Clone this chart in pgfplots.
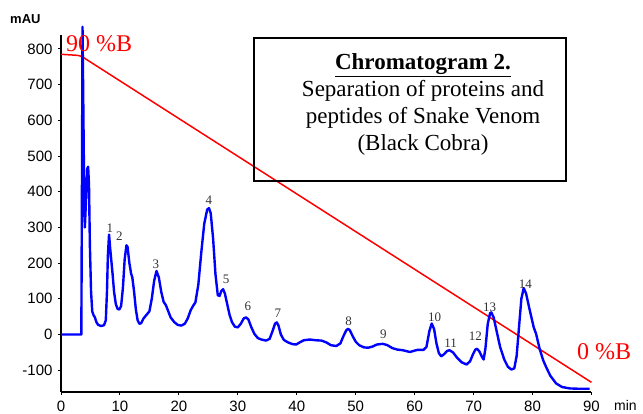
\documentclass[border=0pt]{standalone}
\usepackage{pgfplots}
\pgfplotsset{compat=1.18}
\usepackage{fontspec}
\setmainfont{Liberation Serif}
\newfontfamily\arial{Liberation Sans}
\definecolor{cblue}{RGB}{0,0,255}
\definecolor{cred}{RGB}{255,0,0}
\begin{document}
\begin{tikzpicture}
\useasboundingbox (0,0) rectangle (643pt,413pt);
\begin{axis}[
  at={(61pt,21pt)}, anchor=south west,
  scale only axis, width=530.5pt, height=357pt,
  xmin=0, xmax=90, ymin=-161, ymax=839,
  axis lines*=left,
  axis line style={line width=1.6pt, black},
  xtick={0,10,...,90}, ytick={-100,0,...,800},
  tick align=outside, major tick length=3pt,
  tick style={line width=1pt, black},
  /pgf/number format/assume math mode=true,
  ticklabel style={font=\arial\fontsize{15}{15}\selectfont},
  yticklabel style={anchor=east, xshift=-2pt},
  xticklabel style={anchor=north, yshift=-2pt},
  clip=false,
]
\addplot[cred, line width=1.5pt] coordinates {
(0,785) (2.8,782) (3.3,780) (3.8,776) (90,-134)};
\addplot[cblue, line width=2.4pt, line join=round] coordinates {
(0,0) (3.4,0) (3.45,0) (3.55,400) (3.65,862) (3.75,700) (3.9,450) (4.05,300)
(4.25,380) (4.45,465) (4.6,470) (4.75,420) (4.9,250) (5.1,120) (5.3,65)
(5.5,55) (5.75,48) (6.0,35) (6.3,27) (6.8,24) (7.3,26) (7.6,40) (7.8,120)
(7.95,220) (8.15,280) (8.35,240) (8.55,205) (8.75,170) (9.0,120) (9.3,85)
(9.6,72) (9.9,70) (10.2,80) (10.5,130) (10.8,210) (11.1,250) (11.3,245)
(11.6,200) (11.9,170) (12.1,160) (12.4,120) (12.7,70) (13.0,40) (13.3,30)
(13.6,32) (14.0,45) (14.5,55) (15.0,65) (15.4,100) (15.8,150) (16.2,178)
(16.6,160) (17.0,120) (17.4,92) (17.8,82) (18.2,65) (18.6,48) (19.2,35)
(19.8,27) (20.4,25) (21.0,30) (21.5,45) (22.0,68) (22.4,80) (22.8,90)
(23.3,140) (23.8,230) (24.3,310) (24.8,350) (25.1,354) (25.4,340) (25.8,270)
(26.2,170) (26.6,110) (26.9,108) (27.2,122) (27.5,127) (27.8,115) (28.2,85)
(28.6,55) (29.0,35) (29.5,22) (30.0,20) (30.5,30) (31.0,45) (31.4,48)
(31.8,42) (32.3,20) (32.8,2) (33.4,-10) (34.0,-14) (34.8,-17) (35.4,-12)
(35.9,10) (36.3,30) (36.6,34) (36.9,25) (37.3,0) (37.8,-15) (38.5,-22)
(39.3,-27) (39.9,-28) (40.5,-22) (41.2,-16) (42.2,-14) (43.2,-16) (44.2,-17)
(45.0,-22) (45.8,-30) (46.7,-32) (47.4,-25) (47.9,-5) (48.4,12) (48.7,16)
(49.0,12) (49.5,-5) (50.0,-20) (50.6,-30) (51.4,-36) (52.1,-37) (52.8,-34)
(53.6,-28) (54.6,-26) (55.4,-30) (56.2,-38) (57.0,-42) (58.0,-44) (59.2,-49)
(60.0,-45) (60.5,-43) (61.5,-43) (62.0,-35) (62.5,10) (62.9,31) (63.3,15)
(63.7,-25) (64.1,-52) (64.5,-61) (65.0,-55) (65.5,-46) (65.9,-44) (66.5,-50)
(67.2,-65) (68.0,-78) (68.8,-84) (69.4,-75) (69.9,-55) (70.3,-42) (70.6,-40)
(71.0,-48) (71.4,-62) (71.7,-70) (72.0,-40) (72.4,30) (72.8,60) (73.0,62)
(73.4,48) (73.9,10) (74.5,-35) (75.2,-70) (75.8,-90) (76.4,-98) (76.9,-95)
(77.3,-60) (77.7,20) (78.1,100) (78.5,130) (78.9,115) (79.5,70) (80.2,20)
(80.6,2) (81.2,-40) (81.8,-72) (82.3,-91) (83.0,-115) (84.0,-137) (85.0,-147)
(86.3,-151) (88,-152) (89.7,-152)};
\begin{scope}[every node/.style={font=\fontsize{13}{13}\selectfont, text=black!80, inner sep=0pt}]
\node at (axis cs:8.3,298) {1};
\node at (axis cs:9.9,275) {2};
\node at (axis cs:16.1,196) {3};
\node at (axis cs:25.1,376) {4};
\node at (axis cs:28.0,156) {5};
\node at (axis cs:31.7,78) {6};
\node at (axis cs:36.8,60) {7};
\node at (axis cs:48.8,37) {8};
\node at (axis cs:54.7,2) {9};
\node at (axis cs:63.4,48) {10};
\node at (axis cs:66.1,-24) {11};
\node at (axis cs:70.3,-6) {12};
\node at (axis cs:72.7,76) {13};
\node at (axis cs:78.8,141) {14};
\end{scope}
\end{axis}
% title box
\draw[line width=1.6pt] (254pt,232pt) rectangle (566pt,375pt);
\node[anchor=base, inner sep=0pt, font=\fontsize{23}{27}\selectfont\bfseries] at (423pt,343pt) {\underline{Chromatogram 2.}};
\node[anchor=base, inner sep=0pt, font=\fontsize{23}{27}\selectfont] at (423pt,316pt) {Separation of proteins and};
\node[anchor=base, inner sep=0pt, font=\fontsize{23}{27}\selectfont] at (423pt,289.5pt) {peptides of Snake Venom};
\node[anchor=base, inner sep=0pt, font=\fontsize{23}{27}\selectfont] at (423pt,262.3pt) {(Black Cobra)};
% gradient labels
\node[anchor=base west, inner sep=0pt, text=cred, font=\fontsize{24}{24}\selectfont] at (66pt,361.3pt) {90 \%B};
\node[anchor=base west, inner sep=0pt, text=cred, font=\fontsize{24}{24}\selectfont] at (577pt,53.7pt) {0 \%B};
% axis titles
\node[anchor=base west, inner sep=0pt, font=\arial\bfseries\fontsize{13}{13}\selectfont] at (10pt,389pt) {mAU};
\node[anchor=base west, inner sep=0pt, font=\arial\fontsize{14}{14}\selectfont] at (614pt,3pt) {min};
\end{tikzpicture}
\end{document}
